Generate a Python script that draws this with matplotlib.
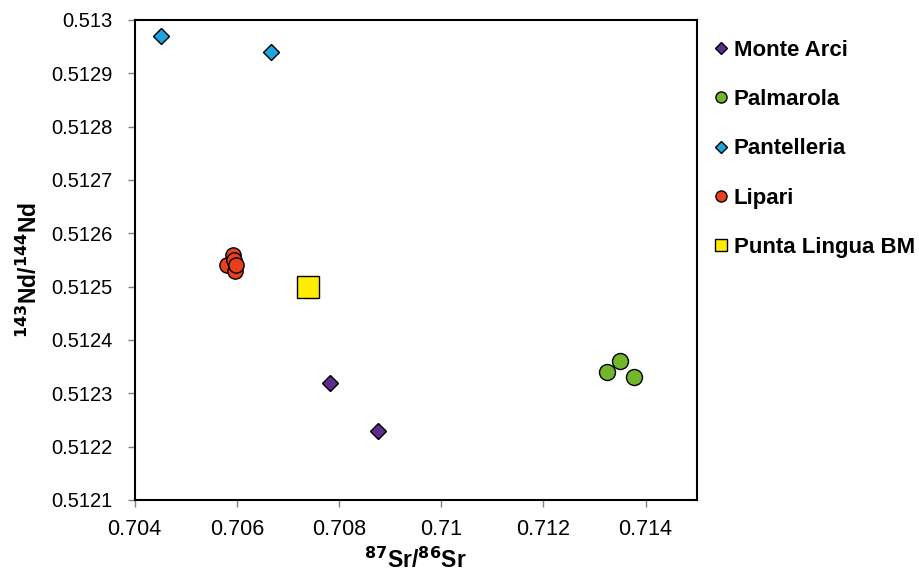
import matplotlib
matplotlib.use("Agg")
import matplotlib.pyplot as plt
from matplotlib.lines import Line2D

plt.rcParams['font.family'] = ['Liberation Sans', 'DejaVu Sans']

# Data (87Sr/86Sr, 143Nd/144Nd)
monte_arci_x = [0.70783, 0.70876]
monte_arci_y = [0.51232, 0.51223]
palmarola_x = [0.71325, 0.71349, 0.71377]
palmarola_y = [0.51234, 0.51236, 0.51233]
pantelleria_x = [0.70451, 0.70666]
pantelleria_y = [0.51297, 0.51294]
lipari_x = [0.70581, 0.70592, 0.70595, 0.70597, 0.70598]
lipari_y = [0.51254, 0.51256, 0.51255, 0.51253, 0.51254]
punta_x = [0.70739]
punta_y = [0.51250]

series_names = ["Monte Arci", "Palmarola", "Pantelleria", "Lipari", "Punta Lingua BM"]
x_ticks = [0.704, 0.706, 0.708, 0.71, 0.712, 0.714]
x_tick_labels = ["0.704", "0.706", "0.708", "0.71", "0.712", "0.714"]
y_ticks = [0.5121, 0.5122, 0.5123, 0.5124, 0.5125, 0.5126, 0.5127, 0.5128, 0.5129, 0.513]
y_tick_labels = ["0.5121", "0.5122", "0.5123", "0.5124", "0.5125", "0.5126",
                 "0.5127", "0.5128", "0.5129", "0.513"]

c_purple = "#5C2D91"
c_green = "#72B62E"
c_blue = "#1EA5DE"
c_red = "#E8401C"
c_yellow = "#FFEC00"

fig = plt.figure(figsize=(9.19, 5.73), dpi=100)
ax = fig.add_axes([0.1466, 0.1274, 0.7581 - 0.1466, 0.9651 - 0.1274])

ax.plot(monte_arci_x, monte_arci_y, linestyle='none', marker='D', ms=8.6,
        mfc=c_purple, mec='black', mew=1.0, zorder=3)
ax.plot(palmarola_x, palmarola_y, linestyle='none', marker='o', ms=11.5,
        mfc=c_green, mec='black', mew=1.0, zorder=3)
ax.plot(pantelleria_x, pantelleria_y, linestyle='none', marker='D', ms=8.6,
        mfc=c_blue, mec='black', mew=1.0, zorder=3)
ax.plot(lipari_x, lipari_y, linestyle='none', marker='o', ms=11,
        mfc=c_red, mec='black', mew=1.0, zorder=3)
ax.plot(punta_x, punta_y, linestyle='none', marker='s', ms=16,
        mfc=c_yellow, mec='black', mew=1.0, zorder=3)

ax.set_xlim(0.704, 0.715)
ax.set_ylim(0.5121, 0.513)
ax.set_xticks(x_ticks)
ax.set_xticklabels(x_tick_labels)
ax.set_yticks(y_ticks)
ax.set_yticklabels(y_tick_labels)
ax.tick_params(axis='x', labelsize=15.5, length=5, width=1, color='#808080', pad=9)
ax.tick_params(axis='y', labelsize=14.5, length=5, width=1, color='#808080', pad=11)

for s in ax.spines.values():
    s.set_linewidth(1.5)
    s.set_color('black')

ax.set_xlabel(r"$\mathbf{^{87}}$Sr/$\mathbf{^{86}}$Sr", fontsize=16.5, fontweight='bold', labelpad=5)
ax.set_ylabel(r"$\mathbf{^{143}}$Nd/$\mathbf{^{144}}$Nd", fontsize=16.5, fontweight='bold')
ax.yaxis.set_label_coords(-0.165, 0.48)

handles = [
    Line2D([], [], linestyle='none', marker='D', ms=6.5, mfc=c_purple, mec='black', mew=1.0),
    Line2D([], [], linestyle='none', marker='o', ms=8, mfc=c_green, mec='black', mew=1.0),
    Line2D([], [], linestyle='none', marker='D', ms=6.5, mfc=c_blue, mec='black', mew=1.0),
    Line2D([], [], linestyle='none', marker='o', ms=8, mfc=c_red, mec='black', mew=1.0),
    Line2D([], [], linestyle='none', marker='s', ms=8, mfc=c_yellow, mec='black', mew=1.0),
]
leg = fig.legend(handles, series_names, loc='upper left',
                 bbox_to_anchor=(715 / 919, 1 - 40 / 573), bbox_transform=fig.transFigure,
                 frameon=False, handlelength=0.55, handletextpad=0.3,
                 labelspacing=1.27, borderpad=0, borderaxespad=0,
                 prop={'size': 16, 'weight': 'bold'})

fig.savefig("out.png", dpi=100)
